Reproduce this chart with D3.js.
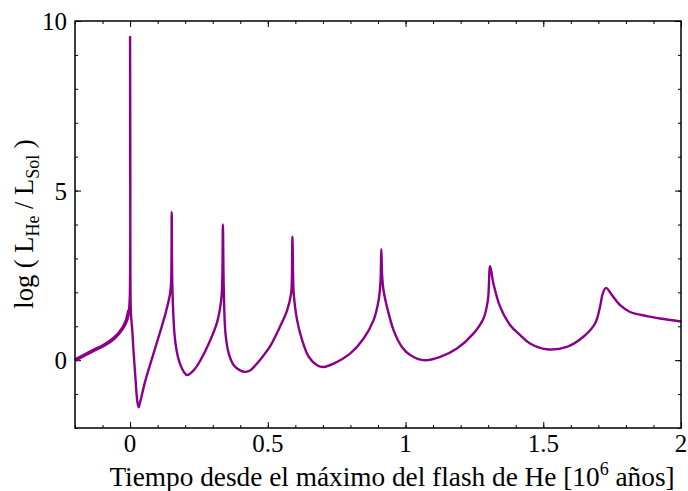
<!DOCTYPE html>
<html>
<head>
<meta charset="utf-8">
<script src="https://cdn.jsdelivr.net/npm/d3@7"></script>
<style>
  body { margin: 0; background: #fff; }
  svg text { font-family: "Liberation Serif", "DejaVu Serif", serif; fill: #000; }
</style>
</head>
<body>
<svg id="chart"></svg>
<script>
// data: time since He flash peak [Myr], log L_He/L_sun
const tiempo = [
  -0.2, -0.143, -0.095, -0.0587, -0.028, -0.0127, -0.0044, -0.001, 0,
  0.0012, 0.003, 0.008, 0.0116, 0.02, 0.026, 0.031, 0.036, 0.056, 0.0925, 0.1287,
  0.145, 0.149, 0.151, 0.1535, 0.161, 0.1686, 0.1806, 0.195, 0.2074, 0.2314,
  0.2557, 0.2858, 0.3162, 0.3307, 0.3345, 0.337, 0.340, 0.3463, 0.358, 0.3764,
  0.4007, 0.419, 0.437, 0.455, 0.473, 0.5068, 0.5438, 0.570, 0.5846, 0.5875, 0.5893,
  0.592, 0.594, 0.6063, 0.6245, 0.6484, 0.6789, 0.7028, 0.739, 0.7996, 0.848,
  0.884, 0.9023, 0.909, 0.912, 0.915, 0.920, 0.9327, 0.9567, 0.987, 1.017,
  1.065, 1.126, 1.1866, 1.247, 1.283, 1.299, 1.307, 1.319, 1.3436, 1.38,
  1.416, 1.452, 1.513, 1.5855, 1.6457, 1.688, 1.706, 1.716, 1.728, 1.749,
  1.779, 1.815, 1.876, 1.924, 2.0
];
const logLHe = [
  0.0, 0.245, 0.44, 0.64, 0.93, 1.18, 1.47, 1.9, 9.53,
  2.5, 1.39, 0.88, 0.38, -0.59, -1.2, -1.39, -1.25, -0.59, 0.39, 1.38,
  1.95, 2.3, 4.36, 2.16, 0.79, 0.295, -0.097, -0.345, -0.44, -0.295,
  0.0, 0.49, 1.13, 1.77, 2.3, 4.0, 2.16, 0.79, 0.2, -0.15,
  -0.31, -0.345, -0.295, -0.15, 0.02, 0.39, 0.98, 1.47, 1.97, 2.4, 3.64,
  2.4, 1.97, 1.18, 0.59, 0.1, -0.15, -0.2, -0.1, 0.2, 0.64,
  1.18, 1.77, 2.3, 3.27, 2.5, 2.06, 1.57, 0.88, 0.39, 0.15,
  0.0, 0.1, 0.345, 0.79, 1.23, 1.77, 2.77, 2.26, 1.57, 1.03,
  0.74, 0.49, 0.32, 0.39, 0.69, 1.08, 1.57, 1.97, 2.13, 1.92,
  1.62, 1.42, 1.30, 1.23, 1.14
];
const xTicks = [0, 0.5, 1, 1.5, 2];
const yTicks = [0, 5, 10];

const W = 688, H = 491;
const margin = { top: 21, right: 7, bottom: 63, left: 75 };
const w = W - margin.left - margin.right;
const h = H - margin.top - margin.bottom;

const svg = d3.select("#chart").attr("width", W).attr("height", H);
const g = svg.append("g").attr("transform", `translate(${margin.left},${margin.top})`);

const x = d3.scaleLinear().domain([-0.2, 2]).range([0, w]);
const y = d3.scaleLinear().domain([-2, 10]).range([h, 0]);

const xMinor = d3.range(-0.2, 2.0001, 0.1).map(v => +v.toFixed(2));
const yMinor = d3.range(-2, 10.0001, 1);

// ticks inward on all four sides
function ticks(axis, vals, size) {
  return axis.tickValues(vals).tickSize(size).tickSizeOuter(0).tickFormat("");
}
const tickStyle = sel => {
  sel.select(".domain").remove();
  sel.selectAll("line").attr("stroke", "#000").attr("stroke-width", 1);
};
g.append("g").attr("transform", `translate(0,${h})`).call(ticks(d3.axisTop(x), xMinor, 3)).call(tickStyle);
g.append("g").attr("transform", `translate(0,${h})`).call(ticks(d3.axisTop(x), xTicks, 6)).call(tickStyle);
g.append("g").call(ticks(d3.axisBottom(x), xMinor, 3)).call(tickStyle);
g.append("g").call(ticks(d3.axisBottom(x), xTicks, 6)).call(tickStyle);
g.append("g").call(ticks(d3.axisRight(y), yMinor, 3)).call(tickStyle);
g.append("g").call(ticks(d3.axisRight(y), yTicks, 6)).call(tickStyle);
g.append("g").attr("transform", `translate(${w},0)`).call(ticks(d3.axisLeft(y), yMinor, 3)).call(tickStyle);
g.append("g").attr("transform", `translate(${w},0)`).call(ticks(d3.axisLeft(y), yTicks, 6)).call(tickStyle);

// tick labels
g.selectAll(".xl").data(xTicks).join("text")
  .attr("x", d => x(d)).attr("y", h + 24)
  .attr("text-anchor", "middle").attr("font-size", 25)
  .text(d => d);
g.selectAll(".yl").data(yTicks).join("text")
  .attr("x", -8).attr("y", d => y(d) + 9)
  .attr("text-anchor", "end").attr("font-size", 25)
  .text(d => d);

// curve (the pre-flash part is noisy in the model, drawn a bit heavier)
const pts = tiempo.map((t, i) => [t, logLHe[i]]);
const line = d3.line().x(d => x(d[0])).y(d => y(d[1])).curve(d3.curveCatmullRom.alpha(0.5));
g.append("path").datum(pts.filter(d => d[0] < -0.004))
  .attr("d", line)
  .attr("fill", "none")
  .attr("stroke", "#8b008b")
  .attr("stroke-width", 3.6);
g.append("path").datum(pts)
  .attr("d", line)
  .attr("fill", "none")
  .attr("stroke", "#8b008b")
  .attr("stroke-width", 2.4)
  .attr("stroke-linejoin", "round");

// frame
g.append("rect").attr("width", w).attr("height", h)
  .attr("fill", "none").attr("stroke", "#000").attr("stroke-width", 1.5);

// axis titles
const xt = svg.append("text")
  .attr("x", 392).attr("y", 486)
  .attr("text-anchor", "middle").attr("font-size", 27.3);
xt.append("tspan").text("Tiempo desde el máximo del flash de He [10");
xt.append("tspan").attr("dy", -11).attr("font-size", 18).text("6");
xt.append("tspan").attr("dy", 11).text(" años]");

const yt = svg.append("text")
  .attr("transform", `translate(33,224) rotate(-90)`)
  .attr("text-anchor", "middle").attr("font-size", 26.5);
yt.append("tspan").text("log ( L");
yt.append("tspan").attr("dy", 6).attr("font-size", 18).text("He");
yt.append("tspan").attr("dy", -6).text(" / L");
yt.append("tspan").attr("dy", 6).attr("font-size", 18).text("Sol");
yt.append("tspan").attr("dy", -6).text(" )");
</script>
</body>
</html>
